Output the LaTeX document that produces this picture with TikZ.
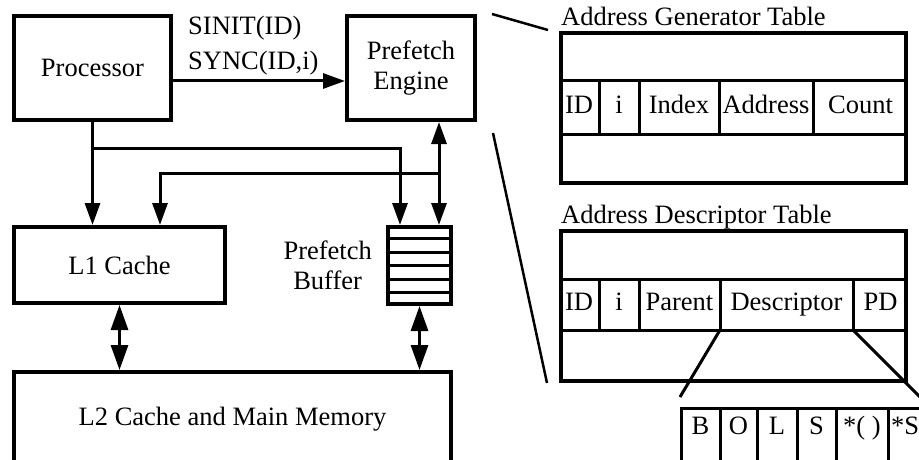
\documentclass[tikz,border=0pt]{standalone}
\usepackage{fontspec}
\setmainfont{Liberation Serif}
\usetikzlibrary{arrows.meta, positioning, calc}
\tikzset{
  box/.style={draw, line width=4pt, align=center, inner sep=0pt},
  tbl/.style={draw, line width=4pt, inner sep=0pt},
  cell/.style={line width=3pt},
  lbl/.style={inner sep=0pt, text height=18pt, text depth=6pt},
  conn/.style={line width=3pt, -{Triangle[length=22pt, width=15pt]}},
  biarr/.style={line width=3pt, {Triangle[length=22pt, width=15pt]}-{Triangle[length=22pt, width=15pt]}},
  bigarr/.style={line width=3pt, {Triangle[length=25pt, width=17pt]}-{Triangle[length=25pt, width=17pt]}},
  zoomline/.style={line width=2.5pt},
}

\begin{document}
\begin{tikzpicture}[x=1pt, y=-1pt, font=\fontsize{26.5}{30}\selectfont]
  \useasboundingbox (0,0) rectangle (919,460);
  \clip (0,0) rectangle (919,460);

  % memory hierarchy
  \node[box, minimum width=157pt, minimum height=104pt] (proc) at (92.5,68) {Processor};
  \node[box, minimum width=128pt, minimum height=104pt] (engine) at (411,68) {Prefetch\\Engine};
  \node[box, minimum width=211pt, minimum height=76pt] (l1) at (119.5,265) {L1 Cache};
  \node[box, minimum width=63pt, minimum height=77pt] (buffer) at (419.5,265.5) {};
  \node[left=14pt of buffer, align=center, inner sep=0pt] (buflabel) {Prefetch\\Buffer};
  \node[box, minimum width=437pt, minimum height=94pt] (l2) at (232.5,419) {L2 Cache and Main Memory};

  % buffer slots
  \foreach \k in {1,...,5}
    \draw[cell] ($(buffer.north west)!\k/6!(buffer.south west)$) -- ($(buffer.north east)!\k/6!(buffer.south east)$);

  % connectors
  \draw[conn] (proc.east |- 0,81) -- (engine.west |- 0,81);
  \node[anchor=west, align=left, inner sep=0pt, font=\fontsize{26.5}{35}\selectfont] (cmds) at (188,46) {SINIT(ID)\\SYNC(ID,i)};

  \coordinate (split) at (proc.south |- 0,148);
  \coordinate (tap) at ([xshift=28pt]engine.south |- 0,173);
  \draw[conn] (proc.south) -- (proc.south |- l1.north);
  \draw[conn] (split) -| ([xshift=-19.5pt]buffer.north);
  \draw[conn] (tap) -| ([xshift=40.5pt]l1.north);
  \draw[biarr] ([xshift=28pt]engine.south) -- ([xshift=19.5pt]buffer.north);
  \draw[bigarr] (l1.south) -- (l1.south |- l2.north);
  \draw[bigarr] (buffer.south) -- (buffer.south |- l2.north);

  % address generator table
  \node[anchor=base west, inner sep=0pt] (agtitle) at (561,26) {Address Generator Table};
  \node[tbl, minimum width=345pt, minimum height=150pt] (agt) at (733.5,108) {};
  \draw[cell] (agt.west |- 0,81) -- (agt.east |- 0,81);
  \draw[cell] (agt.west |- 0,134) -- (agt.east |- 0,134);
  \foreach \x in {599,639,719,813}
    \draw[cell] (\x,81) -- (\x,134);
  \foreach \name/\x in {ID/579,i/619,Index/679,Address/766,Count/860.5}
    \node[lbl] (ag-\name) at (\x,107.5) {\name};

  % address descriptor table
  \node[anchor=base west, inner sep=0pt] (adtitle) at (561,223) {Address Descriptor Table};
  \node[tbl, minimum width=345pt, minimum height=150pt] (adt) at (733.5,306) {};
  \draw[cell] (adt.west |- 0,279) -- (adt.east |- 0,279);
  \draw[cell] (adt.west |- 0,330) -- (adt.east |- 0,330);
  \foreach \x in {599,639,720,853}
    \draw[cell] (\x,279) -- (\x,330);
  \foreach \name/\x in {ID/579,i/619,Parent/679.5,Descriptor/786.5,PD/880.5}
    \node[lbl] (ad-\name) at (\x,304.5) {\name};

  % descriptor fields
  \draw[cell] (681,475) -- (681,408) -- (930,408);
  \foreach \x in {720,757,797,836,888}
    \draw[cell] (\x,408) -- (\x,475);
  \foreach \name/\x/\txt in {b/700.5/B,o/738.5/O,l/777/L,s/816.5/S,call/862/{*( )}}
    \node[lbl] (bits-\name) at (\x,428) {\txt};
  \node[lbl, anchor=west] (bits-sub) at (891,428) {*S};

  % zoom lines
  \coordinate (lens-a1) at (492,14);
  \coordinate (lens-a2) at (548,30);
  \coordinate (lens-b1) at (493,133);
  \coordinate (lens-b2) at (547,383);
  \draw[zoomline] (lens-a1) -- (lens-a2);
  \draw[zoomline] (lens-b1) -- (lens-b2);
  \coordinate (dsc-l) at (720,330);
  \coordinate (dsc-r) at (853,330);
  \draw[cell] (dsc-l) -- (680,397);
  \draw[cell] (dsc-r) -- (921,398);
\end{tikzpicture}
\end{document}
